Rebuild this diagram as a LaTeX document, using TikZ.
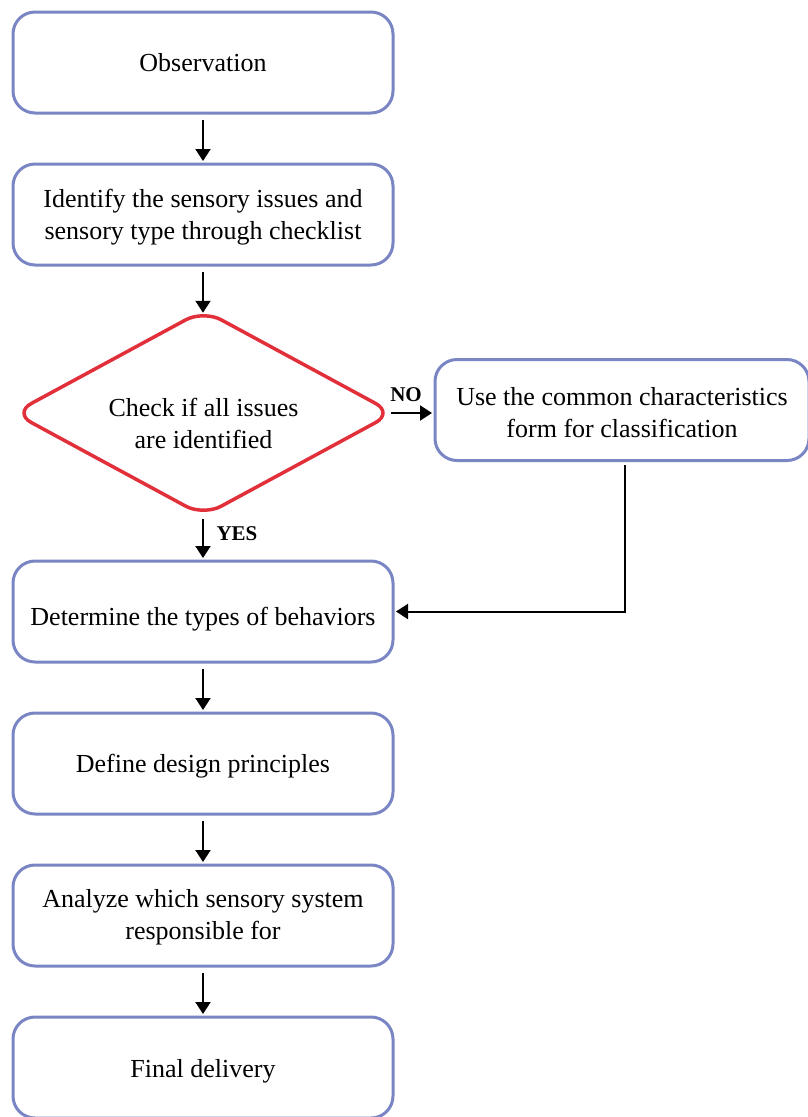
\documentclass[tikz,border=0pt]{standalone}
\usepackage{fontspec}
\setmainfont{Liberation Serif}
\usetikzlibrary{arrows.meta,shapes.geometric}
\definecolor{boxblue}{RGB}{122,134,196}
\definecolor{decred}{RGB}{226,48,58}
\tikzset{
  stepbox/.style={draw=boxblue, line width=3pt, rounded corners=22pt,
    minimum width=380pt, minimum height=101pt, align=center,
    font=\fontsize{26}{32}\selectfont, inner sep=0pt},
  decision/.style={diamond, draw=decred, line width=3.5pt, rounded corners=20pt,
    aspect=1.84, minimum width=381pt, minimum height=207pt, inner sep=0pt,
    align=center, font=\fontsize{26}{32}\selectfont},
  % places the baseline of the last text line #1 below the node centre
  lastbase/.style={text height={2*(#1)}, text depth=0pt},
  flow/.style={-{Triangle[length=12pt,width=15pt]}, line width=2pt, black},
  lbl/.style={font=\bfseries\fontsize{21}{24}\selectfont, inner sep=0pt}
}
\begin{document}
\begin{tikzpicture}[x=1pt,y=1pt]
\useasboundingbox (0,0) rectangle (807,-1117);
\node[stepbox, lastbase=9pt] (obs) at (203,-62.5) {Observation};
\node[stepbox, lastbase=25pt] (ident) at (203,-214.5) {Identify the sensory issues and\\sensory type through checklist};
\node[decision, lastbase=35pt] (check) at (203.5,-413) {Check if all issues\\are identified};
\node[stepbox, minimum width=374pt, lastbase=27pt] (common) at (622,-410) {Use the common characteristics\\form for classification};
\node[stepbox, lastbase=14pt] (behav) at (203,-611.5) {Determine the types of behaviors};
\node[stepbox, lastbase=9pt] (design) at (203,-763.5) {Define design principles};
\node[stepbox, lastbase=24pt] (analyze) at (203,-915.5) {Analyze which sensory system\\responsible for};
\node[stepbox, lastbase=10pt] (final) at (203,-1067.5) {Final delivery};

% the diamond's anchors sit on its sharp corners, outside the rounded tips
\draw[flow] ([yshift=-5pt]obs.south) -- ([yshift=1.5pt]ident.north);
\draw[flow] ([yshift=-5pt]ident.south) -- ([xshift=-0.5pt,yshift=-5pt]check.north);
\draw[flow] ([xshift=-5pt]check.east) -- ([xshift=-1.5pt]common.west |- check.east);
\draw[flow] ([xshift=-0.5pt,yshift=-1pt]check.south) -- ([yshift=1.5pt]behav.north);
\draw[flow] ([xshift=3pt,yshift=-3pt]common.south) |- ([xshift=1.5pt]behav.east);
\draw[flow] ([yshift=-5pt]behav.south) -- ([yshift=1.5pt]design.north);
\draw[flow] ([yshift=-5pt]design.south) -- ([yshift=1.5pt]analyze.north);
\draw[flow] ([yshift=-5pt]analyze.south) -- ([yshift=1.5pt]final.north);

\node[lbl] (no) at (406,-395) {NO};
\node[lbl] (yes) at (237,-534) {YES};
\end{tikzpicture}
\end{document}
